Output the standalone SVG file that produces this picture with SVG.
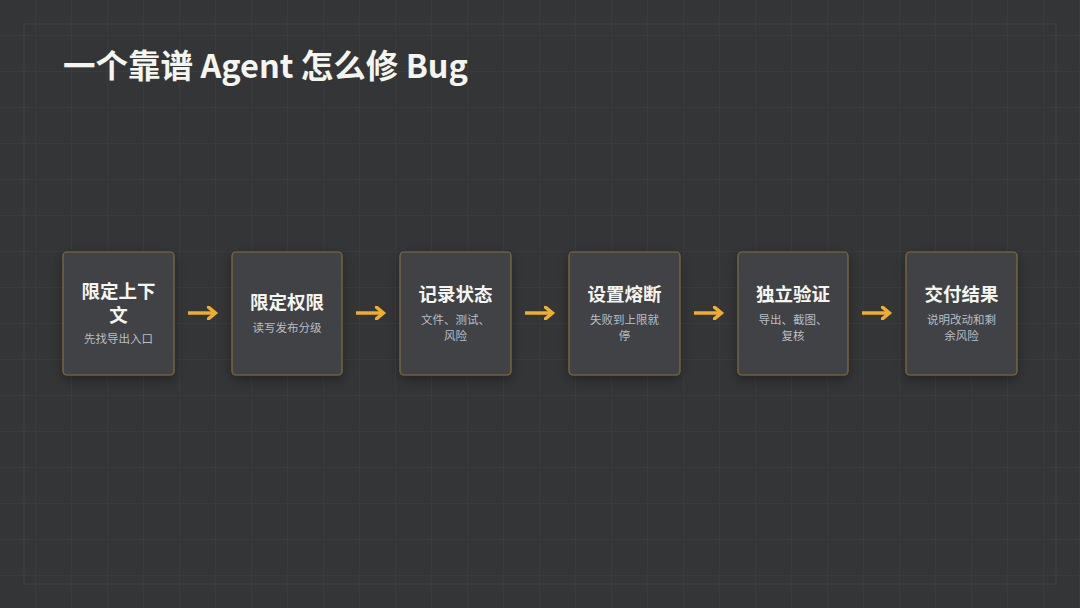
<svg xmlns="http://www.w3.org/2000/svg" width="1080" height="608" viewBox="0 0 1080 608">
<defs>
<pattern id="g" width="36" height="36" patternUnits="userSpaceOnUse"><path d="M36 0V36M0 36H36" fill="none" stroke="#3d3f42" stroke-width="1"/></pattern>
<marker id="ah" viewBox="0 0 10 10" refX="5" refY="5" markerWidth="4" markerHeight="4" orient="auto"><path d="M0 0L6 5L0 10" fill="none" stroke="#f0ad2e" stroke-width="2.5"/></marker>
<filter id="sh" x="-30%" y="-30%" width="160%" height="160%"><feDropShadow dx="0" dy="4" stdDeviation="6" flood-color="#000" flood-opacity="0.35"/></filter>
</defs>
<style>
.box{fill:#414244;stroke:#806c40;stroke-width:1.2;filter:url(#sh)}
.t{font-family:"Noto Sans CJK SC","Noto Sans",sans-serif;font-weight:700;font-size:18.5px;fill:#f5f5f0;text-anchor:middle}
.s{font-family:"Noto Sans CJK SC","Noto Sans",sans-serif;font-size:11.5px;fill:#b9bec6;text-anchor:middle}
.c{stroke:#f0ad2e;stroke-width:3.5;fill:none;marker-end:url(#ah)}
</style>
<rect width="1080" height="608" fill="#343537"/>
<rect width="1080" height="608" fill="url(#g)"/>
<rect x="24" y="24" width="1032" height="560" fill="none" stroke="#45433a" stroke-width="1"/>
<text x="63" y="78" font-family="'Noto Sans CJK SC','Noto Sans',sans-serif" font-weight="700" font-size="32.5" fill="#f5f5f0">一个靠谱 Agent 怎么修 Bug</text>
<g id="connectors">
<path class="c" d="M188 313H214"/>
<path class="c" d="M356 313H382"/>
<path class="c" d="M525 313H551"/>
<path class="c" d="M694 313H720"/>
<path class="c" d="M862 313H888"/>
</g>
<g id="n1"><rect class="box" x="63" y="252" width="111" height="123" rx="4"/><text class="t" x="118.5" y="298">限定上下</text><text class="t" x="118.5" y="322">文</text><text class="s" x="118.5" y="343">先找导出入口</text></g>
<g id="n2"><rect class="box" x="232" y="252" width="110" height="123" rx="4"/><text class="t" x="287" y="309">限定权限</text><text class="s" x="287" y="332">读写发布分级</text></g>
<g id="n3"><rect class="box" x="400" y="252" width="111" height="123" rx="4"/><text class="t" x="455.5" y="301">记录状态</text><text class="s" x="455.5" y="324">文件、测试、</text><text class="s" x="455.5" y="340">风险</text></g>
<g id="n4"><rect class="box" x="569" y="252" width="111" height="123" rx="4"/><text class="t" x="624.5" y="301">设置熔断</text><text class="s" x="624.5" y="324">失败到上限就</text><text class="s" x="624.5" y="340">停</text></g>
<g id="n5"><rect class="box" x="738" y="252" width="110" height="123" rx="4"/><text class="t" x="793" y="301">独立验证</text><text class="s" x="793" y="324">导出、截图、</text><text class="s" x="793" y="340">复核</text></g>
<g id="n6"><rect class="box" x="906" y="252" width="111" height="123" rx="4"/><text class="t" x="961.5" y="301">交付结果</text><text class="s" x="961.5" y="324">说明改动和剩</text><text class="s" x="961.5" y="340">余风险</text></g>
</svg>
